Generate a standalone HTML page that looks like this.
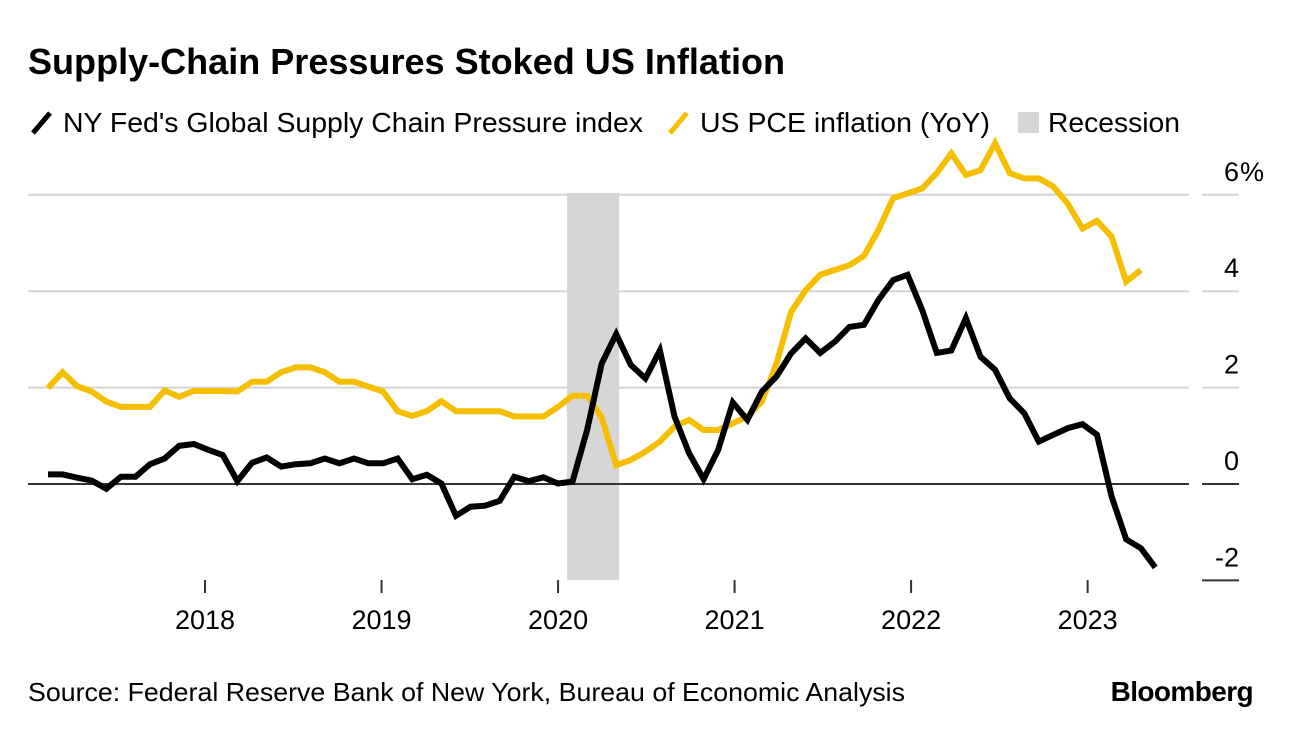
<!DOCTYPE html>
<html><head><meta charset="utf-8">
<style>
html,body{margin:0;padding:0;background:#fff;}
body{width:1292px;height:736px;overflow:hidden;font-family:"Liberation Sans",sans-serif;}
svg text{font-family:"Liberation Sans",sans-serif;}
</style></head>
<body>
<svg id="chart" width="1292" height="736" viewBox="0 0 1292 736" xmlns="http://www.w3.org/2000/svg">
  <text x="28" y="74" font-size="36" font-weight="bold" fill="#000" textLength="757" lengthAdjust="spacingAndGlyphs">Supply-Chain Pressures Stoked US Inflation</text>
  <g>
    <g>
      <line x1="33" y1="133" x2="50" y2="113" stroke="#000" stroke-width="5"/>
      <text x="63" y="132" font-size="28" fill="#000" textLength="580" lengthAdjust="spacingAndGlyphs">NY Fed's Global Supply Chain Pressure index</text>
    </g>
    <g>
      <line x1="670" y1="133" x2="687" y2="113" stroke="#f5bf00" stroke-width="5"/>
      <text x="700" y="132" font-size="28" fill="#000" textLength="290" lengthAdjust="spacingAndGlyphs">US PCE inflation (YoY)</text>
    </g>
    <g>
      <rect x="1018" y="112" width="21" height="21" fill="#d6d6d6"/>
      <text x="1048" y="132" font-size="28" fill="#000" textLength="132" lengthAdjust="spacingAndGlyphs">Recession</text>
    </g>
  </g>
  <g id="plot"></g>
  <text x="28" y="701" font-size="26" fill="#000" textLength="877" lengthAdjust="spacingAndGlyphs">Source: Federal Reserve Bank of New York, Bureau of Economic Analysis</text>
  <text x="1253" y="701" font-size="28" font-weight="bold" fill="#000" text-anchor="end" letter-spacing="-0.6">Bloomberg</text>
</svg>
<script>
// Months counted from Jan 2017; first observation Feb 2017
const yTicks = [-2, 0, 2, 4, 6];
const yTickLabels = ["-2", "0", "2", "4", "6"];
const xTickYears = [2018, 2019, 2020, 2021, 2022, 2023];
const recessionStartMonth = 36.6;
const recessionEndMonth = 40.15;
const gscpi = [0.20,0.20,0.13,0.07,-0.10,0.15,0.15,0.41,0.53,0.79,
 0.83,0.71,0.60,0.06,0.44,0.55,0.36,0.41,0.43,0.53,
 0.43,0.53,0.43,0.43,0.53,0.10,0.19,0.01,-0.66,-0.47,
 -0.45,-0.35,0.15,0.06,0.14,0.01,0.05,1.12,2.50,3.11,
 2.47,2.19,2.77,1.40,0.64,0.10,0.71,1.69,1.33,1.92,
 2.23,2.71,3.02,2.72,2.95,3.26,3.30,3.82,4.23,4.34,
 3.61,2.72,2.77,3.44,2.64,2.37,1.78,1.47,0.88,1.02,
 1.16,1.24,1.02,-0.26,-1.15,-1.33,-1.73];
const pce = [1.99,2.32,2.03,1.92,1.71,1.60,1.60,1.60,1.94,1.81,
 1.93,1.93,1.93,1.92,2.12,2.12,2.32,2.42,2.42,2.32,
 2.12,2.12,2.02,1.92,1.51,1.41,1.51,1.72,1.51,1.51,
 1.51,1.51,1.40,1.40,1.40,1.60,1.83,1.83,1.38,0.39,
 0.50,0.67,0.88,1.19,1.33,1.12,1.12,1.26,1.40,1.71,
 2.50,3.57,4.02,4.34,4.44,4.54,4.73,5.27,5.93,6.03,
 6.13,6.45,6.86,6.41,6.51,7.07,6.45,6.34,6.34,6.17,
 5.81,5.30,5.46,5.13,4.20,4.44];

const NS = "http://www.w3.org/2000/svg";
const plot = document.getElementById("plot");
const xMonth = m => 28.5 + m * 14.71;          // m = months since Jan 2017
const xIdx = i => 48 + i * 14.57;
const yVal = v => 484 - v * 48.2;
function mk(tag, attrs){ const e=document.createElementNS(NS,tag); for(const k in attrs) e.setAttribute(k,attrs[k]); plot.appendChild(e); return e; }

const band = mk("rect",{x:xMonth(recessionStartMonth),y:193,width:xMonth(recessionEndMonth)-xMonth(recessionStartMonth),height:387,fill:"#d6d6d6"});



yTicks.forEach((t,k)=>{
  const dark = t <= 0;
  const y = yVal(t);
  if (t > -2) {
    const g = mk("line",{x1:28,x2:1189,y1:y,y2:y,stroke:dark?"#333":"#d4d4d4","stroke-width":2});
    
    
  }
  const s = mk("line",{x1:1202,x2:1239,y1:y,y2:y,stroke:dark?"#333":"#d4d4d4","stroke-width":2});
  
  
  const tx = mk("text",{x:1239,y:y-14,"font-size":27,"text-anchor":"end",fill:"#000"});
  tx.textContent = yTickLabels[k];
  
  
  if (k === yTicks.length - 1) {
    const pc = mk("text",{x:1240,y:y-14,"font-size":27,fill:"#000"});
    pc.textContent = "%";
    
    
  }
});

xTickYears.forEach(yr=>{
  const x = xMonth((yr-2017)*12);
  const l = mk("line",{x1:x,x2:x,y1:580,y2:593,stroke:"#333","stroke-width":2});
  
  
  const t = mk("text",{x:x,y:629,"font-size":27,"text-anchor":"middle",fill:"#000"});
  t.textContent = String(yr);
  
  
});

function series(arr, color, name){
  const pts = arr.map((v,i)=>xIdx(i).toFixed(1)+","+yVal(v).toFixed(1)).join(" ");
  const p = mk("polyline",{points:pts,fill:"none",stroke:color,"stroke-width":6,"stroke-linejoin":"miter","stroke-miterlimit":3});
  
  
}
series(pce, "#f5bf00", "pce-inflation-line");
series(gscpi, "#000", "supply-chain-index-line");
</script>
</body></html>
